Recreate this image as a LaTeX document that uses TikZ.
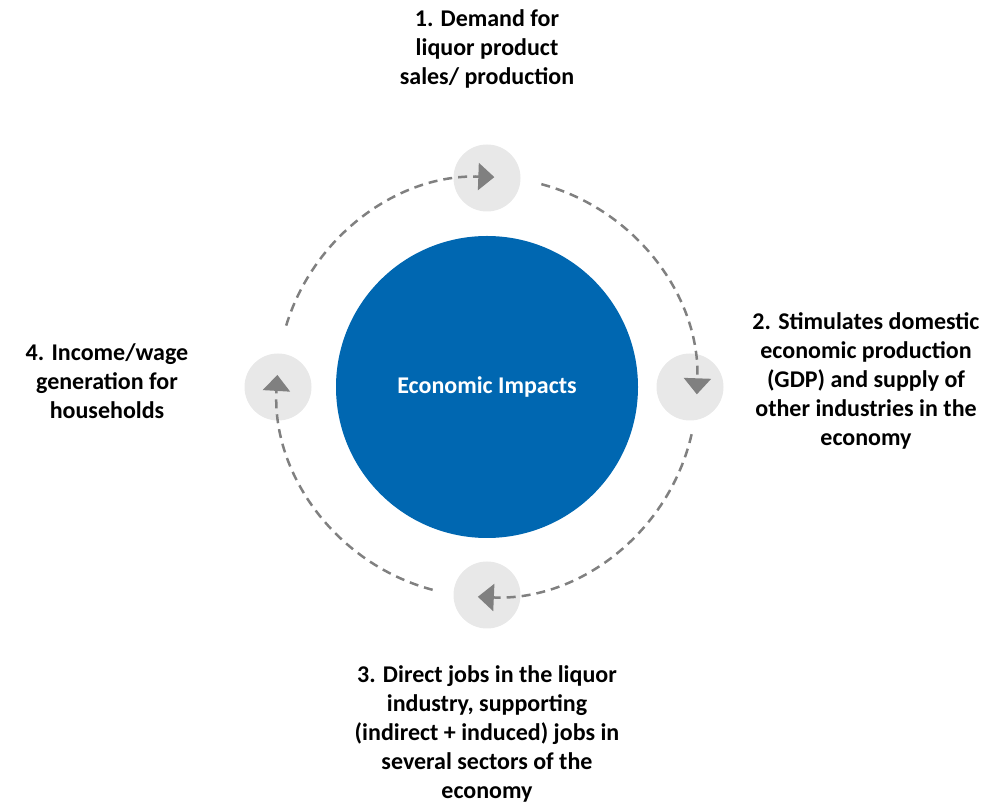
\documentclass[tikz,border=0pt]{standalone}
\usepackage{fontspec}
\setmainfont{Carlito}
\usetikzlibrary{calc, arrows.meta}
\definecolor{impactblue}{RGB}{0,103,177}
\definecolor{stepgray}{RGB}{232,232,232}
\definecolor{dashgray}{RGB}{128,128,128}
\tikzstyle{impactnode} = [circle, 
minimum size=302pt, 
inner sep=0pt, 
fill=impactblue, 
text=white, 
font=\bfseries\fontsize{24}{29}\selectfont]
\tikzstyle{stepnode} = [circle, minimum size=67pt, inner sep=0pt, fill=stepgray]
\tikzstyle{labelnode} = [align=center, font=\bfseries\fontsize{24}{29}\selectfont]
\tikzstyle{dashedarrow} = [dashgray, line width=2.5pt, dash pattern=on 9pt off 6pt, -{Triangle[length=16pt,width=27pt]}]

\begin{document}
\begin{tikzpicture}[x=1pt, y=1pt]
    \useasboundingbox (0,0) rectangle (999,803);
    \node (impact) [impactnode] at (487,416) {Economic Impacts};

    \node (s1) [stepnode] at ($(impact)+(90:209)$) {};
    \node (s2) [stepnode] at ($(impact)+(0:203)$) {};
    \node (s3) [stepnode] at ($(impact)+(-90:208)$) {};
    \node (s4) [stepnode] at ($(impact)+(180:209)$) {};

    \node (t1) [labelnode] at (487,754) {1. Demand for\\liquor product\\sales/ production};
    \node (t2) [labelnode] at (866,422) {2. Stimulates domestic\\economic production\\(GDP) and supply of\\other industries in the\\economy};
    \node (t3) [labelnode] at (487,69) {3. Direct jobs in the liquor\\industry, supporting\\(indirect + induced) jobs in\\several sectors of the\\economy};
    \node (t4) [labelnode] at (107,422) {4. Income/wage\\generation for\\households};

    % Arc start points
    \coordinate (a1) at ($(impact)+(163:210)$);
    \coordinate (a2) at ($(impact)+(75:210)$);
    \coordinate (a3) at ($(impact)+(-13:210)$);
    \coordinate (a4) at ($(impact)+(-105:210)$);

    % Cycle arcs
    \draw [dashedarrow] (a1) arc[start angle=163, end angle=88, radius=210pt];
    \draw [dashedarrow] (a2) arc[start angle=75, end angle=-2, radius=210pt];
    \draw [dashedarrow] (a3) arc[start angle=-13, end angle=-92.5, radius=210pt];
    \draw [dashedarrow] (a4) arc[start angle=-105, end angle=-183.3, radius=210pt];
\end{tikzpicture}
\end{document}
